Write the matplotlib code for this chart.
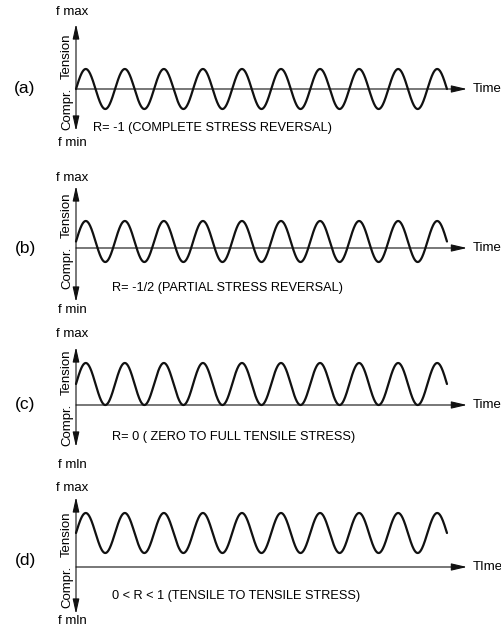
import numpy as np
import matplotlib
matplotlib.use("Agg")
import matplotlib.pyplot as plt

plt.rcParams["font.family"] = ["Liberation Sans", "DejaVu Sans"]

# values, in units of stress amplitude
panel_labels = ["(a)", "(b)", "(c)", "(d)"]
captions = [
    "R= -1 (COMPLETE STRESS REVERSAL)",
    "R= -1/2 (PARTIAL STRESS REVERSAL)",
    "R= 0 ( ZERO TO FULL TENSILE STRESS)",
    "0 < R < 1 (TENSILE TO TENSILE STRESS)",
]
f_max = [1.0, 1.35, 2.1, 2.7]
f_min = [-1.0, -0.7, 0.0, 0.7]
n_cycles = 9.5
time_label = ["Time", "Time", "Time", "TIme"]
fmin_label = ["f min", "f min", "f mln", "f mln"]

# layout (pixels)
W, H = 502, 627
X0 = 76          # x of stress axis
PERIOD = 39.05   # px per cycle
UNIT = 20.0      # px per stress unit
baseline = [89, 248, 405, 567]
arrow_top = [65, 62, 58, 70]
arrow_bot = [-42, -54, -42, -47]
fmax_y = [77, 70, 71, 79]
fmin_y = [-54, -62, -60, -54]
cap_y = [-39, -40, -32, -29]
cap_x = [93, 112, 112, 112]
lab_y = [0, -1, 0, 7]


def px_x(p):
    return (p - X0) / PERIOD


def px_y(p):
    return p / UNIT


fig = plt.figure(figsize=(W / 100, H / 100), dpi=100)
for i in range(4):
    ax = fig.add_axes([0, 0, 1, 1])
    ax.set_xlim(px_x(0), px_x(W))
    ax.set_ylim(-(H - baseline[i]) / UNIT, baseline[i] / UNIT)
    ax.axis("off")
    ax.patch.set_alpha(0)

    t = np.linspace(0, n_cycles, 1200)
    mean = (f_max[i] + f_min[i]) / 2
    amp = (f_max[i] - f_min[i]) / 2
    ax.plot(t, mean + amp * np.sin(2 * np.pi * t), color="#111111", lw=1.6,
            solid_capstyle="round")

    # time axis
    ax.annotate("", xy=(px_x(467), 0), xytext=(0, 0),
                arrowprops=dict(arrowstyle="-|>,head_length=0.95,head_width=0.22",
                                color="#111111", lw=0.8, shrinkA=0, shrinkB=0))
    # stress axis
    ax.annotate("", xy=(0, px_y(arrow_top[i])), xytext=(0, px_y(arrow_bot[i])),
                arrowprops=dict(arrowstyle="<|-|>,head_length=0.9,head_width=0.2",
                                color="#111111", lw=0.8, shrinkA=0, shrinkB=0))

    fs = 9.5
    ax.text(px_x(473), 0, time_label[i], ha="left", va="center", fontsize=fs)
    ax.text(px_x(72), px_y(fmax_y[i]), "f max", ha="center", va="center", fontsize=fs)
    ax.text(px_x(72), px_y(fmin_y[i]), fmin_label[i], ha="center", va="center", fontsize=fs)
    ax.text(px_x(67), px_y(33), "Tension", ha="center", va="center",
            rotation=90, fontsize=fs)
    ax.text(px_x(67), px_y(-20), "Compr.", ha="center", va="center",
            rotation=90, fontsize=fs)
    ax.text(px_x(cap_x[i]), px_y(cap_y[i]), captions[i], ha="left", va="center",
            fontsize=9.2)
    ax.text(px_x(25), px_y(lab_y[i]), panel_labels[i], ha="center", va="center",
            fontsize=12.5)

fig.savefig("out.png", dpi=100, facecolor="white")
